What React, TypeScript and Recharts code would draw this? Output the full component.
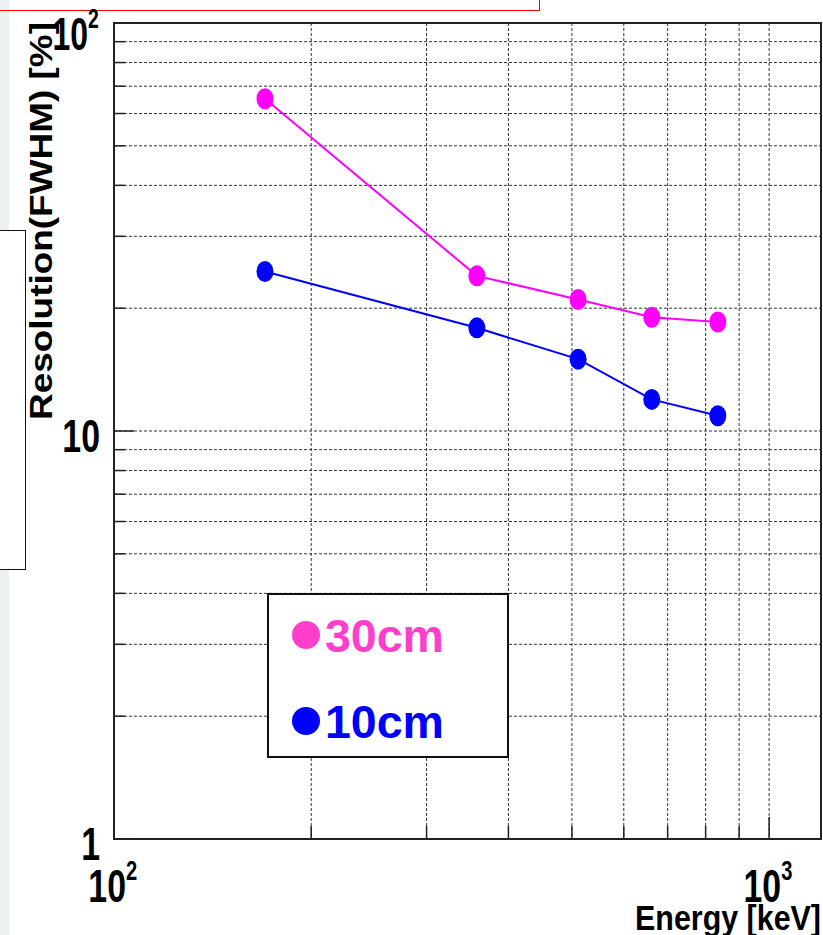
import React from "react";
import {
  LineChart,
  Line,
  XAxis,
  YAxis,
  CartesianGrid,
  Legend,
  ReferenceArea,
} from "recharts";

// Photopeak energies [keV] and measured resolution (FWHM, %) at two distances
const energies = [170, 358, 511, 662, 835];
const res30cm = [65.2, 24.0, 21.0, 19.0, 18.5];
const res10cm = [24.6, 17.9, 15.0, 11.95, 10.9];

const seriesNames = ["30cm", "10cm"];
const lineColors = ["#ff00ff", "#0000ff"];
const legendColors = ["#ff3fcc", "#0000ff"];

const xTicks = [100, 200, 300, 400, 500, 600, 700, 800, 900, 1000];
const yTicks = [
  1, 2, 3, 4, 5, 6, 7, 8, 9, 10, 20, 30, 40, 50, 60, 70, 80, 90, 100,
];
const xMajor = [100, 1000];
const yMajor = [1, 10, 100];

const data = energies.map((e, i) => ({
  energy: e,
  r30: res30cm[i],
  r10: res10cm[i],
}));

const FONT = "'Liberation Sans', Arial, Helvetica, sans-serif";

const Dot = (props: any) => {
  const { cx, cy, fill } = props;
  if (cx == null || cy == null) return null;
  return <ellipse cx={cx} cy={cy} rx={8.5} ry={10.5} fill={fill} />;
};

const XTick = (props: any) => {
  const { x, y, payload } = props;
  const v = payload.value;
  const major = xMajor.includes(v);
  const exp = Math.round(Math.log10(v));
  return (
    <g>
      <line x1={x} x2={x} y1={y} y2={y - (major ? 22 : 13)} stroke="#222" strokeWidth={1.5} />
      {major && (
        <>
          <g transform={`translate(${x + 12},${y + 63}) scale(0.72,1)`}>
            <text textAnchor="end" fontSize={47} fontWeight="bold" fontFamily={FONT} fill="#000">
              10
            </text>
          </g>
          <g transform={`translate(${x + 12},${y + 41}) scale(0.72,1)`}>
            <text textAnchor="start" fontSize={28} fontWeight="bold" fontFamily={FONT} fill="#000">
              {exp}
            </text>
          </g>
        </>
      )}
    </g>
  );
};

const YTick = (props: any) => {
  const { x, y, payload } = props;
  const v = payload.value;
  const major = yMajor.includes(v);
  let label: React.ReactNode = null;
  if (v === 100) {
    label = (
      <>
        <g transform={`translate(${x - 26},${y + 27}) scale(0.68,1)`}>
          <text textAnchor="end" fontSize={47} fontWeight="bold" fontFamily={FONT} fill="#000">
            10
          </text>
        </g>
        <g transform={`translate(${x - 26},${y + 5}) scale(0.72,1)`}>
          <text textAnchor="start" fontSize={27} fontWeight="bold" fontFamily={FONT} fill="#000">
            2
          </text>
        </g>
      </>
    );
  } else if (major) {
    label = (
      <g transform={`translate(${x - 14},${y + 21}) scale(0.72,1)`}>
        <text textAnchor="end" fontSize={47} fontWeight="bold" fontFamily={FONT} fill="#000">
          {String(v)}
        </text>
      </g>
    );
  }
  return (
    <g>
      <line x1={x} x2={x + (major ? 20 : 11)} y1={y} y2={y} stroke="#222" strokeWidth={1.5} />
      {label}
    </g>
  );
};

const LegendBox = (props: any) => {
  const payload = [...(props.payload || [])].sort(
    (a: any, b: any) => seriesNames.indexOf(a.value) - seriesNames.indexOf(b.value)
  );
  return (
    <div
      style={{
        width: 242,
        height: 165,
        boxSizing: "border-box",
        border: "2px solid #111",
        background: "#fff",
      }}
    >
      <svg width={238} height={161}>
        {payload.map((p: any, i: number) => {
          const idx = seriesNames.indexOf(p.value);
          const c = legendColors[idx >= 0 ? idx : i];
          const cy = 40 + i * 86;
          return (
            <g key={p.value}>
              <circle cx={37} cy={cy} r={14} fill={c} />
              <text
                x={56}
                y={cy + 17}
                fontSize={47}
                fontWeight="bold"
                fontFamily={FONT}
                fill={c}
                textLength={119}
                lengthAdjust="spacingAndGlyphs"
              >
                {p.value}
              </text>
            </g>
          );
        })}
      </svg>
    </div>
  );
};

export default function App() {
  return (
    <div style={{ position: "absolute", left: 0, top: 0, width: 823, height: 935, background: "#fff", overflow: "hidden" }}>
      {/* light side strip and neighbouring panel frames */}
      <div style={{ position: "absolute", left: 0, top: 0, width: 9, height: 935, background: "#edf0f3" }} />
      <div
        style={{
          position: "absolute",
          left: -10,
          top: 230,
          width: 36,
          height: 340,
          boxSizing: "border-box",
          border: "1.5px solid #111",
          background: "#fff",
        }}
      />
      <div
        style={{
          position: "absolute",
          left: -10,
          top: -10,
          width: 550,
          height: 21,
          boxSizing: "border-box",
          border: "1.5px solid #ff0000",
        }}
      />
      <div style={{ position: "absolute", left: 0, top: 0 }}>
        <LineChart
          width={823}
          height={935}
          data={data}
          margin={{ top: 23, right: 2, bottom: 56, left: 54 }}
          style={{ fontFamily: FONT }}
        >
          <CartesianGrid stroke="#333" strokeDasharray="3 2" strokeWidth={1} />
          <XAxis
            dataKey="energy"
            type="number"
            scale="log"
            domain={[100, 1200]}
            ticks={xTicks}
            interval={0}
            height={40}
            tickSize={0}
            tickMargin={0}
            axisLine={false}
            tickLine={false}
            tick={<XTick />}
            label={{
              content: () => (
                <text
                  x={635}
                  y={930}
                  fontSize={35}
                  fontWeight="bold"
                  fontFamily={FONT}
                  fill="#000"
                  textLength={186}
                  lengthAdjust="spacingAndGlyphs"
                >
                  Energy [keV]
                </text>
              ),
            }}
          />
          <YAxis
            type="number"
            scale="log"
            domain={[1, 100]}
            ticks={yTicks}
            interval={0}
            width={60}
            tickSize={0}
            tickMargin={0}
            axisLine={false}
            tickLine={false}
            tick={<YTick />}
            label={{
              content: () => (
                <text
                  x={52}
                  y={420}
                  transform="rotate(-90 52 420)"
                  fontSize={31}
                  fontWeight="bold"
                  fontFamily={FONT}
                  fill="#000"
                  textLength={398}
                  lengthAdjust="spacingAndGlyphs"
                >
                  Resolution(FWHM) [%]
                </text>
              ),
            }}
          />
          <Line
            dataKey="r30"
            name={seriesNames[0]}
            stroke={lineColors[0]}
            strokeWidth={2}
            fill={lineColors[0]}
            dot={<Dot />}
            activeDot={false}
            isAnimationActive={false}
          />
          <Line
            dataKey="r10"
            name={seriesNames[1]}
            stroke={lineColors[1]}
            strokeWidth={2}
            fill={lineColors[1]}
            dot={<Dot />}
            activeDot={false}
            isAnimationActive={false}
          />
          <ReferenceArea
            x1={100}
            x2={1200}
            y1={1}
            y2={100}
            fill="none"
            fillOpacity={0}
            stroke="#222"
            strokeWidth={2}
            ifOverflow="visible"
          />
          <Legend
            content={<LegendBox />}
            layout="horizontal"
            align="center"
            verticalAlign="middle"
            wrapperStyle={{ position: "absolute", left: 267, top: 593, width: 242, height: 165 }}
          />
        </LineChart>
      </div>
    </div>
  );
}
